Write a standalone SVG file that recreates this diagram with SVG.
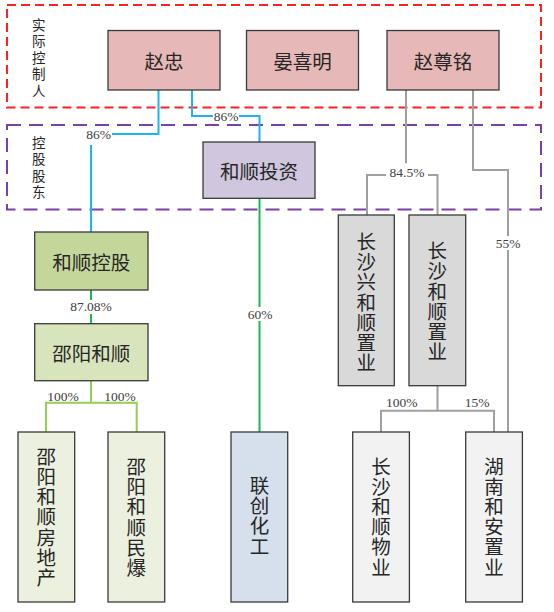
<svg xmlns="http://www.w3.org/2000/svg" width="554" height="612" viewBox="0 0 554 612">
<style>
.box{stroke:#3a3a3a;stroke-width:1.3}
.cn{font-family:"Noto Sans CJK SC","Noto Sans",sans-serif;font-size:19.5px;fill:#262626;text-anchor:middle;dominant-baseline:central}
.v{font-family:"Noto Sans CJK SC","Noto Sans",sans-serif;font-size:19.5px;fill:#262626;text-anchor:middle;writing-mode:vertical-rl;letter-spacing:0.7px}
.side{font-family:"Noto Sans CJK SC","Noto Sans",sans-serif;font-size:13.5px;fill:#262626;text-anchor:middle;writing-mode:vertical-rl;letter-spacing:3px}
.pct{font-family:"Liberation Serif","Times New Roman",serif;font-size:13.5px;fill:#404040;text-anchor:middle;dominant-baseline:central}
.ln{fill:none;stroke-width:2}
.blue{stroke:#1CB5EC}
.green{stroke:#19B75A}
.lgreen{stroke:#92D050}
.gray{stroke:#A0A0A0}
.bg{fill:#ffffff}
</style>
<rect width="554" height="612" fill="#ffffff"/>
<g id="groups">
<rect x="7" y="5" width="534" height="102.5" fill="none" stroke="#FF2020" stroke-width="2" stroke-dasharray="9,5"/>
<rect x="7" y="125" width="534" height="84.5" fill="none" stroke="#7A3FA8" stroke-width="2" stroke-dasharray="14,8"/>
<text class="side" x="38.7" y="59">实际控制人</text>
<text class="side" x="38.7" y="169">控股股东</text>
</g>
<g id="connectors">
<path class="ln blue" d="M158.5 90 V134 H112"/>
<path class="ln blue" d="M91 145 V232"/>
<path class="ln blue" d="M192 90 V116 H259.5 V142"/>
<path class="ln green" d="M259.5 198 V432"/>
<path class="ln green" d="M91 290 V323.7"/>
<path class="ln lgreen" d="M91 380.7 V402.7 M46 432 V402.7 H136.7 V432"/>
<path class="ln gray" d="M406 90 V163.3 M367 215 V175 H437.5 V215"/>
<path class="ln gray" d="M473 90 V170 H508 V432"/>
<path class="ln gray" d="M437.5 385.7 V410.7 M381 432 V410.7 H494 V432"/>
<text class="pct" x="98.6" y="134">86%</text>
<rect class="bg" x="213" y="109" width="26" height="14"/>
<text class="pct" x="226" y="116">86%</text>
<rect class="bg" x="70" y="300" width="42" height="14"/>
<text class="pct" x="91" y="306.7">87.08%</text>
<rect class="bg" x="247" y="307" width="26" height="14"/>
<text class="pct" x="260" y="314">60%</text>
<text class="pct" x="63" y="396.7">100%</text>
<text class="pct" x="120" y="396.7">100%</text>
<rect class="bg" x="386" y="166" width="42" height="14"/>
<text class="pct" x="407" y="172.5">84.5%</text>
<rect class="bg" x="495" y="236" width="26" height="14"/>
<text class="pct" x="508" y="243">55%</text>
<text class="pct" x="401.7" y="402.7">100%</text>
<text class="pct" x="477" y="402.7">15%</text>
</g>
<g id="n-zhaozhong"><rect class="box" x="108" y="30.5" width="112" height="59.5" fill="#E6B8B7"/><text class="cn" x="164" y="60">赵忠</text></g>
<g id="n-yanximing"><rect class="box" x="246.5" y="30.5" width="112" height="59.5" fill="#E6B8B7"/><text class="cn" x="302.5" y="60">晏喜明</text></g>
<g id="n-zhaozunming"><rect class="box" x="387" y="30.5" width="112" height="59.5" fill="#E6B8B7"/><text class="cn" x="443" y="60">赵尊铭</text></g>
<g id="n-heshuntouzi"><rect class="box" x="203" y="142" width="112" height="56.3" fill="#D0C6DE"/><text class="cn" x="259" y="170">和顺投资</text></g>
<g id="n-heshunkonggu"><rect class="box" x="34.7" y="232" width="113.3" height="58" fill="#C4D79B"/><text class="cn" x="91.3" y="261">和顺控股</text></g>
<g id="n-shaoyangheshun"><rect class="box" x="34.7" y="323.7" width="113.3" height="57" fill="#D8E4BC"/><text class="cn" x="91.3" y="352">邵阳和顺</text></g>
<g id="n-csxhs"><rect class="box" x="338.3" y="215" width="56" height="170.7" fill="#D9D9D9"/><text class="v" x="366.3" y="302.5">长沙兴和顺置业</text></g>
<g id="n-cshszy"><rect class="box" x="409" y="215" width="56.7" height="170.7" fill="#D9D9D9"/><text class="v" x="437.3" y="301.7">长沙和顺置业</text></g>
<g id="n-syfdc"><rect class="box" x="18" y="432" width="56.7" height="170" fill="#EBF1DE"/><text class="v" x="46.3" y="517.3">邵阳和顺房地产</text></g>
<g id="n-symb"><rect class="box" x="108" y="432" width="56.7" height="170" fill="#EBF1DE"/><text class="v" x="136.3" y="517.5">邵阳和顺民爆</text></g>
<g id="n-lianchuang"><rect class="box" x="231" y="432" width="56.7" height="170" fill="#D6E0ED"/><text class="v" x="259.4" y="516.3">联创化工</text></g>
<g id="n-cshswy"><rect class="box" x="352.7" y="432" width="56.7" height="170" fill="#F2F2F2"/><text class="v" x="381" y="517">长沙和顺物业</text></g>
<g id="n-hnhazy"><rect class="box" x="465.7" y="432" width="56.7" height="170" fill="#F2F2F2"/><text class="v" x="494" y="517">湖南和安置业</text></g>
</svg>
